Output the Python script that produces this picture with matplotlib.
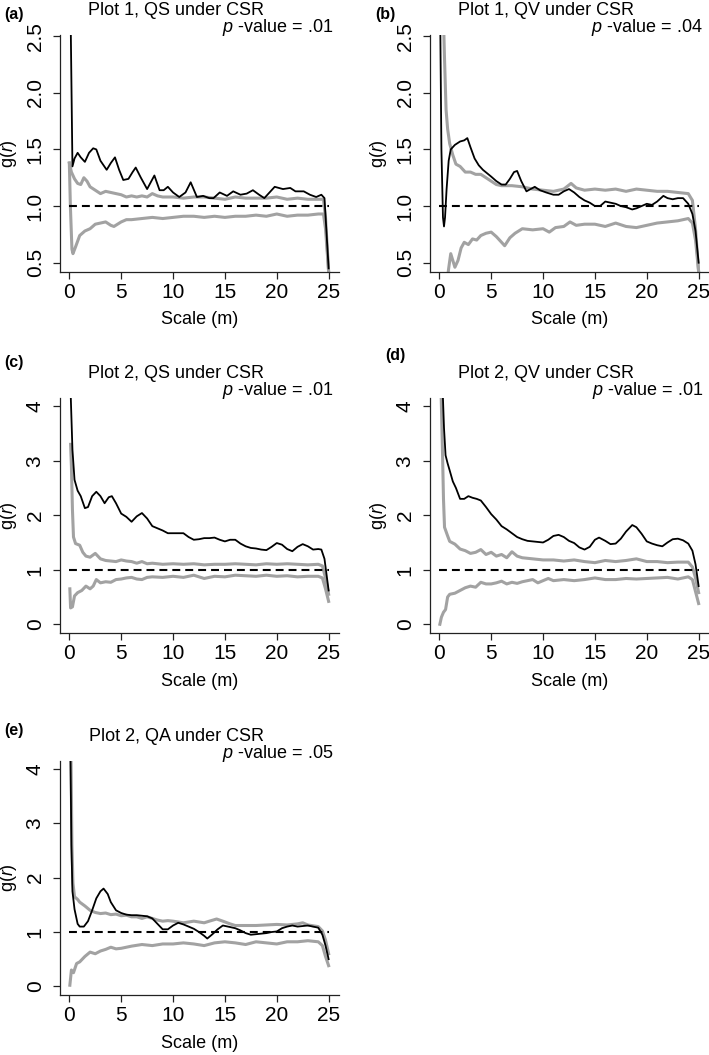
import matplotlib
matplotlib.use("Agg")
import matplotlib.pyplot as plt
from matplotlib import font_manager

plt.rcParams["font.family"] = ["Liberation Sans", "DejaVu Sans"]
plt.rcParams["mathtext.fontset"] = "custom"
plt.rcParams["mathtext.it"] = "Liberation Sans:italic"
plt.rcParams["mathtext.rm"] = "Liberation Sans"

names = {f.name for f in font_manager.fontManager.ttflist}
tick_font = "Liberation Sans Narrow" if "Liberation Sans Narrow" in names else "Liberation Sans"

# ---- data: (r, g(r)) ----
a_obs = [(0.08, 3.0), (0.3, 1.35), (0.5, 1.42), (0.8, 1.47), (1.1, 1.43), (1.5, 1.39), (1.9, 1.47),
         (2.3, 1.51), (2.6, 1.50), (3.0, 1.40), (3.6, 1.32), (4.0, 1.38), (4.4, 1.43), (4.8, 1.32),
         (5.2, 1.23), (5.7, 1.24), (6.1, 1.30), (6.4, 1.34), (6.9, 1.25), (7.5, 1.15), (8.2, 1.27),
         (8.7, 1.14), (9.1, 1.14), (9.5, 1.17), (10.0, 1.12), (10.6, 1.08), (11.2, 1.12), (11.7, 1.21),
         (12.3, 1.08), (12.9, 1.09), (13.5, 1.07), (13.9, 1.07), (14.5, 1.12), (15.2, 1.09), (15.8, 1.13),
         (16.5, 1.10), (17.1, 1.11), (17.7, 1.14), (18.3, 1.10), (18.8, 1.07), (19.3, 1.12), (19.8, 1.17),
         (20.6, 1.15), (21.3, 1.16), (21.8, 1.13), (22.6, 1.13), (23.2, 1.10), (23.8, 1.08), (24.3, 1.10),
         (24.6, 1.07), (25.0, 0.45)]
a_hi = [(0.0, 1.38), (0.2, 1.30), (0.5, 1.24), (0.8, 1.20), (1.1, 1.19), (1.4, 1.25), (1.7, 1.22),
        (2.0, 1.17), (2.5, 1.14), (3.0, 1.11), (3.5, 1.13), (4.0, 1.12), (4.5, 1.11), (5.0, 1.10),
        (5.5, 1.08), (6.0, 1.09), (6.5, 1.08), (7.0, 1.09), (7.5, 1.08), (8.0, 1.11), (8.5, 1.09),
        (9.0, 1.08), (10.0, 1.08), (11.0, 1.07), (12.0, 1.08), (13.0, 1.08), (14.0, 1.07), (15.0, 1.06),
        (16.0, 1.08), (17.0, 1.07), (18.0, 1.07), (19.0, 1.07), (20.0, 1.08), (21.0, 1.06), (22.0, 1.07),
        (23.0, 1.06), (24.0, 1.06), (24.5, 1.06), (24.7, 0.9), (25.0, 0.42)]
a_lo = [(0.0, 1.38), (0.1, 1.0), (0.25, 0.62), (0.35, 0.58), (0.6, 0.64), (1.0, 0.74), (1.5, 0.78),
        (2.0, 0.80), (2.5, 0.84), (3.0, 0.85), (3.5, 0.86), (4.0, 0.83), (4.3, 0.82), (5.0, 0.86),
        (5.5, 0.88), (6.0, 0.88), (7.0, 0.89), (8.0, 0.90), (9.0, 0.89), (10.0, 0.90), (11.0, 0.91),
        (12.0, 0.91), (13.0, 0.90), (14.0, 0.91), (15.0, 0.90), (16.0, 0.91), (17.0, 0.91), (18.0, 0.92),
        (19.0, 0.91), (20.0, 0.93), (21.0, 0.91), (22.0, 0.92), (23.0, 0.92), (24.0, 0.93), (24.5, 0.93),
        (24.7, 0.8), (25.0, 0.42)]

b_obs = [(0.0, 3.0), (0.1, 2.5), (0.2, 1.5), (0.35, 0.9), (0.45, 0.82), (0.55, 0.9), (0.7, 1.15),
         (0.9, 1.40), (1.1, 1.50), (1.5, 1.54), (2.0, 1.57), (2.4, 1.58), (2.7, 1.60), (3.0, 1.52),
         (3.4, 1.42), (3.8, 1.36), (4.2, 1.32), (4.6, 1.29), (5.0, 1.26), (5.5, 1.22), (6.0, 1.19),
         (6.4, 1.19), (6.8, 1.24), (7.2, 1.30), (7.5, 1.31), (7.9, 1.22), (8.4, 1.13), (8.8, 1.15),
         (9.2, 1.17), (9.7, 1.14), (10.3, 1.12), (11.0, 1.10), (11.5, 1.10), (12.0, 1.13), (12.5, 1.15),
         (13.0, 1.12), (13.5, 1.08), (14.0, 1.05), (14.5, 1.03), (15.0, 1.00), (15.5, 1.00), (16.0, 1.04),
         (16.5, 1.03), (17.0, 1.02), (17.5, 1.00), (18.0, 0.99), (18.6, 0.97), (19.0, 0.98), (19.5, 1.00),
         (20.0, 1.02), (20.5, 1.01), (21.0, 1.04), (21.6, 1.09), (22.0, 1.07), (22.5, 1.06), (23.0, 1.07),
         (23.5, 1.07), (24.0, 1.02), (24.4, 0.93), (24.7, 0.78), (25.0, 0.5)]
b_hi = [(0.3, 3.0), (0.5, 2.3), (0.65, 1.85), (0.8, 1.68), (1.0, 1.55), (1.3, 1.45), (1.6, 1.37),
        (2.0, 1.35), (2.5, 1.30), (3.0, 1.30), (3.5, 1.28), (4.0, 1.28), (4.5, 1.25), (5.0, 1.22),
        (5.5, 1.19), (6.0, 1.18), (7.0, 1.18), (8.0, 1.17), (9.0, 1.15), (10.0, 1.14), (11.0, 1.13),
        (12.0, 1.15), (12.7, 1.20), (13.2, 1.16), (14.0, 1.14), (15.0, 1.15), (16.0, 1.14), (17.0, 1.15),
        (18.0, 1.13), (19.0, 1.15), (20.0, 1.14), (21.0, 1.13), (22.0, 1.13), (23.0, 1.12), (24.0, 1.11),
        (24.4, 1.05), (24.7, 0.8), (25.0, 0.42)]
b_lo = [(0.7, 0.3), (0.9, 0.45), (1.1, 0.58), (1.3, 0.52), (1.5, 0.46), (1.8, 0.52), (2.1, 0.63),
        (2.4, 0.68), (2.8, 0.66), (3.2, 0.71), (3.6, 0.70), (4.0, 0.74), (4.5, 0.76), (5.0, 0.77),
        (5.5, 0.73), (6.0, 0.68), (6.3, 0.65), (6.8, 0.72), (7.3, 0.76), (8.0, 0.80), (9.0, 0.79),
        (10.0, 0.80), (10.6, 0.77), (11.2, 0.81), (12.0, 0.82), (12.6, 0.86), (13.2, 0.83), (14.0, 0.84),
        (15.0, 0.84), (16.0, 0.82), (17.0, 0.85), (18.0, 0.82), (19.0, 0.81), (20.0, 0.83), (21.0, 0.85),
        (22.0, 0.86), (23.0, 0.87), (24.0, 0.89), (24.4, 0.85), (24.7, 0.7), (25.0, 0.42)]

c_obs = [(0.1, 4.4), (0.3, 3.2), (0.5, 2.65), (0.8, 2.45), (1.1, 2.35), (1.5, 2.13), (1.8, 2.15),
         (2.2, 2.35), (2.6, 2.43), (3.0, 2.35), (3.4, 2.22), (3.8, 2.33), (4.1, 2.35), (4.5, 2.22),
         (5.0, 2.03), (5.5, 1.97), (6.0, 1.88), (6.5, 1.98), (7.0, 2.04), (7.5, 1.94), (8.0, 1.80),
         (8.5, 1.76), (9.0, 1.72), (9.5, 1.67), (10.0, 1.67), (10.5, 1.67), (11.0, 1.67), (11.5, 1.60),
         (12.0, 1.55), (12.5, 1.56), (13.0, 1.58), (13.5, 1.58), (14.0, 1.59), (14.5, 1.55), (15.0, 1.52),
         (15.5, 1.55), (16.0, 1.55), (16.5, 1.48), (17.0, 1.43), (17.5, 1.40), (18.0, 1.39), (18.5, 1.37),
         (19.0, 1.36), (19.5, 1.42), (20.0, 1.49), (20.5, 1.46), (21.0, 1.38), (21.5, 1.34), (22.0, 1.42),
         (22.5, 1.47), (23.0, 1.43), (23.5, 1.37), (24.0, 1.38), (24.3, 1.37), (24.6, 1.20), (25.0, 0.62)]
c_hi = [(0.12, 3.3), (0.2, 2.9), (0.3, 2.1), (0.4, 1.6), (0.6, 1.48), (1.0, 1.45), (1.3, 1.32),
        (1.6, 1.25), (2.0, 1.23), (2.5, 1.30), (3.0, 1.20), (3.5, 1.17), (4.0, 1.16), (4.5, 1.15),
        (5.0, 1.18), (5.5, 1.16), (6.0, 1.15), (6.5, 1.12), (7.0, 1.15), (7.5, 1.11), (8.0, 1.12),
        (9.0, 1.10), (10.0, 1.11), (11.0, 1.10), (12.0, 1.11), (13.0, 1.09), (14.0, 1.10), (15.0, 1.10),
        (16.0, 1.11), (17.0, 1.10), (18.0, 1.09), (19.0, 1.11), (20.0, 1.10), (21.0, 1.11), (22.0, 1.10),
        (23.0, 1.09), (24.0, 1.10), (24.4, 1.07), (24.7, 0.85), (25.0, 0.55)]
c_lo = [(0.05, 0.65), (0.12, 0.30), (0.3, 0.32), (0.5, 0.52), (0.8, 0.58), (1.2, 0.62), (1.6, 0.70),
        (2.0, 0.65), (2.3, 0.70), (2.6, 0.82), (3.0, 0.76), (3.5, 0.78), (4.0, 0.77), (4.5, 0.82),
        (5.0, 0.83), (5.5, 0.85), (6.0, 0.86), (6.5, 0.83), (7.0, 0.82), (7.5, 0.86), (8.0, 0.87),
        (9.0, 0.86), (10.0, 0.88), (11.0, 0.86), (12.0, 0.90), (13.0, 0.84), (14.0, 0.88), (15.0, 0.87),
        (16.0, 0.90), (17.0, 0.89), (18.0, 0.88), (19.0, 0.90), (20.0, 0.88), (21.0, 0.89), (22.0, 0.87),
        (23.0, 0.88), (24.0, 0.88), (24.4, 0.85), (24.7, 0.65), (25.0, 0.42)]

d_obs = [(0.3, 4.4), (0.45, 3.6), (0.6, 3.1), (0.8, 2.95), (1.0, 2.82), (1.3, 2.62), (1.6, 2.50),
         (2.0, 2.30), (2.4, 2.30), (2.8, 2.35), (3.2, 2.32), (3.6, 2.30), (4.0, 2.27), (4.5, 2.15),
         (5.0, 2.02), (5.5, 1.92), (6.0, 1.80), (6.5, 1.74), (7.0, 1.67), (7.5, 1.60), (8.0, 1.56),
         (8.5, 1.53), (9.0, 1.52), (9.5, 1.51), (10.0, 1.50), (10.5, 1.55), (11.0, 1.62), (11.5, 1.64),
         (12.0, 1.60), (12.5, 1.53), (13.0, 1.49), (13.5, 1.41), (14.0, 1.37), (14.5, 1.42), (15.0, 1.55),
         (15.4, 1.59), (16.0, 1.53), (16.5, 1.47), (17.0, 1.48), (17.5, 1.57), (18.0, 1.70), (18.6, 1.82),
         (19.0, 1.78), (19.5, 1.66), (20.0, 1.52), (20.5, 1.48), (21.0, 1.45), (21.5, 1.43), (22.0, 1.50),
         (22.5, 1.56), (23.0, 1.57), (23.5, 1.54), (24.0, 1.48), (24.4, 1.35), (24.7, 1.10), (25.0, 0.70)]
d_hi = [(0.15, 4.4), (0.3, 3.2), (0.4, 2.3), (0.5, 1.78), (0.8, 1.62), (1.0, 1.52), (1.5, 1.47),
        (2.0, 1.38), (2.5, 1.35), (3.0, 1.30), (3.5, 1.32), (4.0, 1.37), (4.5, 1.28), (5.0, 1.32),
        (5.5, 1.25), (6.0, 1.28), (6.5, 1.22), (7.0, 1.33), (7.5, 1.25), (8.0, 1.22), (9.0, 1.20),
        (10.0, 1.18), (11.0, 1.18), (12.0, 1.16), (13.0, 1.18), (14.0, 1.15), (15.0, 1.13), (16.0, 1.17),
        (17.0, 1.15), (18.0, 1.17), (19.0, 1.20), (20.0, 1.15), (21.0, 1.15), (22.0, 1.13), (23.0, 1.14),
        (24.0, 1.14), (24.4, 1.05), (24.7, 0.85), (25.0, 0.58)]
d_lo = [(0.05, 0.0), (0.2, 0.13), (0.4, 0.22), (0.6, 0.27), (0.8, 0.5), (1.0, 0.55), (1.5, 0.57),
        (2.0, 0.62), (2.5, 0.67), (3.0, 0.70), (3.5, 0.68), (4.0, 0.77), (4.5, 0.74), (5.0, 0.74),
        (5.5, 0.76), (6.0, 0.79), (6.5, 0.74), (7.0, 0.77), (7.5, 0.75), (8.0, 0.78), (9.0, 0.82),
        (9.5, 0.76), (10.0, 0.80), (10.5, 0.84), (11.0, 0.80), (12.0, 0.82), (13.0, 0.80), (14.0, 0.82),
        (15.0, 0.85), (16.0, 0.82), (17.0, 0.82), (18.0, 0.84), (19.0, 0.83), (20.0, 0.84), (21.0, 0.85),
        (22.0, 0.86), (23.0, 0.83), (24.0, 0.87), (24.4, 0.82), (24.7, 0.6), (25.0, 0.38)]

e_obs = [(0.1, 4.4), (0.2, 2.6), (0.3, 1.75), (0.5, 1.42), (0.8, 1.15), (1.0, 1.10), (1.4, 1.10),
         (1.8, 1.20), (2.2, 1.40), (2.6, 1.62), (3.0, 1.75), (3.3, 1.80), (3.7, 1.70), (4.0, 1.55),
         (4.5, 1.40), (5.0, 1.35), (5.5, 1.32), (6.0, 1.31), (6.5, 1.31), (7.0, 1.30), (7.5, 1.29),
         (8.0, 1.25), (8.5, 1.15), (9.0, 1.05), (9.5, 1.05), (10.0, 1.12), (10.5, 1.17), (11.0, 1.14),
         (11.5, 1.10), (12.0, 1.06), (12.5, 1.00), (13.0, 0.93), (13.3, 0.88), (13.8, 0.96), (14.3, 1.05),
         (14.8, 1.12), (15.3, 1.10), (16.0, 1.07), (16.5, 1.03), (17.0, 0.98), (17.5, 0.95), (18.0, 0.96),
         (18.5, 0.97), (19.0, 0.98), (19.5, 1.00), (20.0, 1.01), (20.5, 1.07), (21.0, 1.10), (21.5, 1.12),
         (22.0, 1.10), (22.5, 1.11), (23.0, 1.12), (23.5, 1.10), (24.0, 1.08), (24.4, 0.95), (24.7, 0.75),
         (25.0, 0.50)]
e_hi = [(0.15, 4.4), (0.25, 2.6), (0.35, 1.9), (0.5, 1.65), (0.8, 1.60), (1.0, 1.55), (1.5, 1.48),
        (2.0, 1.40), (2.5, 1.36), (3.0, 1.34), (3.5, 1.35), (4.0, 1.32), (4.5, 1.33), (5.0, 1.30),
        (5.5, 1.31), (6.0, 1.28), (6.5, 1.28), (7.0, 1.25), (7.5, 1.28), (8.0, 1.25), (8.5, 1.22),
        (9.0, 1.20), (9.5, 1.21), (10.0, 1.20), (11.0, 1.17), (12.0, 1.20), (13.0, 1.17), (13.5, 1.20),
        (14.2, 1.24), (14.8, 1.20), (15.5, 1.15), (16.0, 1.12), (17.0, 1.12), (18.0, 1.12), (19.0, 1.13),
        (20.0, 1.14), (21.0, 1.13), (22.0, 1.15), (22.5, 1.17), (23.0, 1.13), (24.0, 1.10), (24.4, 1.02),
        (24.7, 0.85), (25.0, 0.6)]
e_lo = [(0.05, 0.02), (0.2, 0.30), (0.4, 0.25), (0.7, 0.42), (1.0, 0.45), (1.5, 0.55), (2.0, 0.63),
        (2.5, 0.60), (3.0, 0.65), (3.5, 0.68), (4.0, 0.72), (4.5, 0.69), (5.0, 0.70), (6.0, 0.74),
        (7.0, 0.77), (8.0, 0.75), (9.0, 0.78), (10.0, 0.78), (11.0, 0.80), (12.0, 0.78), (13.0, 0.75),
        (14.0, 0.80), (15.0, 0.82), (16.0, 0.80), (17.0, 0.77), (18.0, 0.82), (19.0, 0.80), (20.0, 0.78),
        (21.0, 0.82), (22.0, 0.82), (23.0, 0.84), (24.0, 0.82), (24.4, 0.75), (24.7, 0.55), (25.0, 0.38)]

tags = ["(a)", "(b)", "(c)", "(d)", "(e)"]
titles = ["Plot 1, QS under CSR", "Plot 1, QV under CSR", "Plot 2, QS under CSR",
          "Plot 2, QV under CSR", "Plot 2, QA under CSR"]
pvals = [".01", ".04", ".01", ".01", ".05"]
x_ticks = [0, 5, 10, 15, 20, 25]
y_ticks_top = [0.5, 1.0, 1.5, 2.0, 2.5]
y_ticks_low = [0, 1, 2, 3, 4]

series = [(a_obs, a_hi, a_lo), (b_obs, b_hi, b_lo), (c_obs, c_hi, c_lo),
          (d_obs, d_hi, d_lo), (e_obs, e_hi, e_lo)]

W, H = 709, 1055
fig = plt.figure(figsize=(W / 100, H / 100), dpi=100)

# axes boxes in pixels: left, top, right, bottom
boxes = [(60, 35, 339, 272), (430, 35, 709, 272),
         (60, 398, 339, 633), (430, 398, 709, 633),
         (60, 761, 339, 995)]
tag_pos = [(4, 14), (375, 14), (4, 362), (385, 356), (4, 731)]
gray = "#a2a2a2"

for i, (obs, hi, lo) in enumerate(series):
    l, t, r, b = boxes[i]
    aw, ah = r - l, b - t
    ax = fig.add_axes([l / W, 1 - b / H, aw / W, ah / H])
    for env in (hi, lo):
        xs, ys = zip(*env)
        ax.plot(xs, ys, color=gray, lw=2.2, solid_joinstyle="round")
    ax.plot([0, 25], [1, 1], color="black", lw=1.5, ls=(0, (3.8, 2.4)))
    xs, ys = zip(*obs)
    ax.plot(xs, ys, color="black", lw=1.3)

    ax.set_xlim(-0.9, 26.0)
    if i < 2:
        ax.set_ylim(0.418, 2.51)
        ax.set_yticks(y_ticks_top)
        ax.set_yticklabels([f"{v:.1f}" for v in y_ticks_top])
    else:
        ax.set_ylim(-0.16, 4.15)
        ax.set_yticks(y_ticks_low)
        ax.set_yticklabels([str(v) for v in y_ticks_low])
    ax.set_xticks(x_ticks)
    ax.set_xticklabels([str(v) for v in x_ticks])
    for s in ("top", "right"):
        ax.spines[s].set_visible(False)
    for s in ("left", "bottom"):
        ax.spines[s].set_linewidth(0.9)
        ax.spines[s].set_color("#222222")
    ax.tick_params(direction="out", length=5, width=0.9, color="#222222")
    ax.tick_params(axis="x", pad=3)
    ax.tick_params(axis="y", pad=6, labelrotation=90)
    for lab in ax.get_xticklabels() + ax.get_yticklabels():
        lab.set_fontfamily(tick_font)
        lab.set_fontsize(15)
    for lab in ax.get_yticklabels():
        lab.set_va("center")

    ax.set_xlabel("Scale (m)", fontsize=13, va="center")
    ax.xaxis.set_label_coords(0.5, -48 / ah)
    ax.set_ylabel(r"g($\mathit{r}$)", fontsize=13, va="center")
    ax.yaxis.set_label_coords(-51 / aw, 0.5)

    ax.annotate(titles[i], xy=(0.5, 1), xycoords="axes fraction",
                xytext=(-23, 20), textcoords="offset pixels",
                ha="center", va="baseline", fontsize=13)
    ax.annotate(r"$\mathit{p}$ -value = " + pvals[i], xy=(1, 1), xycoords="axes fraction",
                xytext=(-6, 3), textcoords="offset pixels",
                ha="right", va="baseline", fontsize=13)
    tx, ty = tag_pos[i]
    fig.text(tx / W, 1 - ty / H, tags[i], ha="left", va="center",
             fontsize=11.5, fontweight="bold")

fig.savefig("out.png", dpi=100)
